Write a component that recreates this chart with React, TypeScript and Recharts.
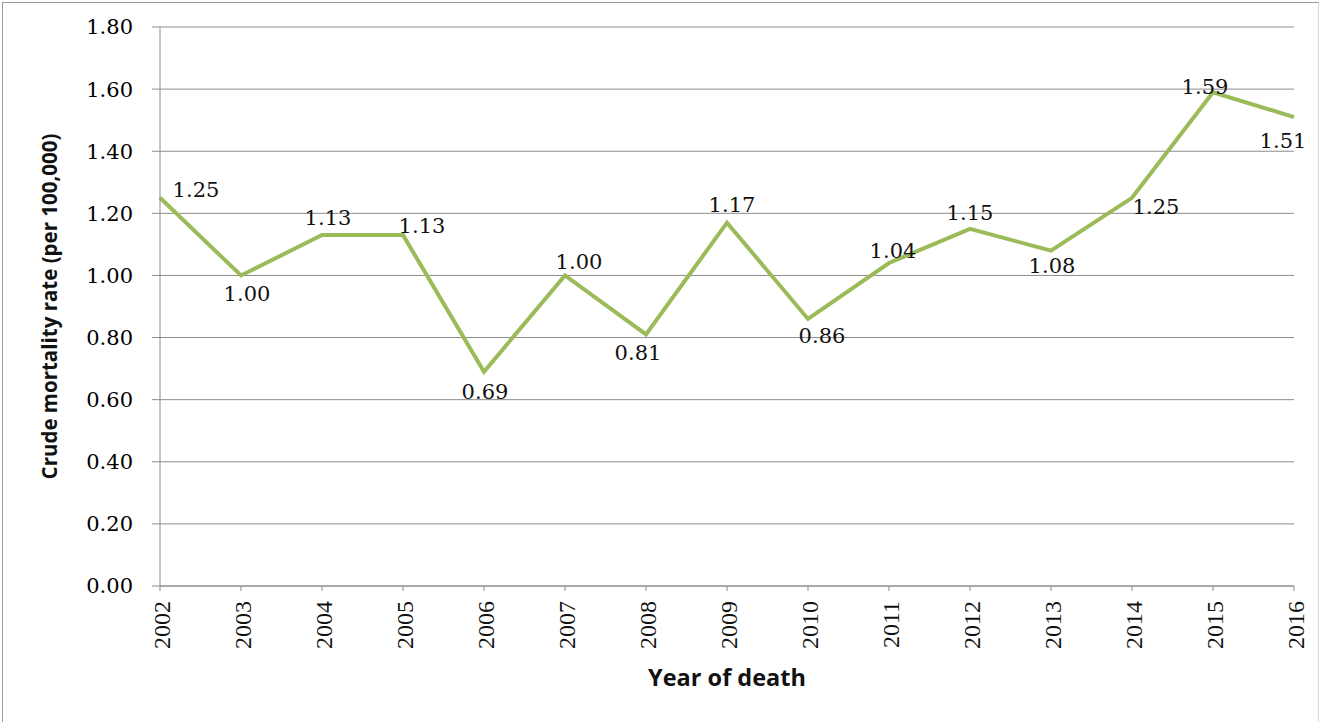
import React from 'react';
import { LineChart, Line, XAxis, YAxis, CartesianGrid, LabelList } from 'recharts';

const YEARS = ['2002', '2003', '2004', '2005', '2006', '2007', '2008', '2009', '2010', '2011', '2012', '2013', '2014', '2015', '2016'];
const RATES = [1.25, 1.0, 1.13, 1.13, 0.69, 1.0, 0.81, 1.17, 0.86, 1.04, 1.15, 1.08, 1.25, 1.59, 1.51];
const Y_TICKS = [0, 0.2, 0.4, 0.6, 0.8, 1.0, 1.2, 1.4, 1.6, 1.8];

// where Excel dropped each data label, relative to its point (label centre)
const LABEL_SHIFT: [number, number][] = [
  [36, -8], [6, 18], [6, -18], [19, -10], [1, 20], [14, -14], [-8, 18], [5, -18],
  [14, 17], [4, -13], [0, -16], [1, 15], [24, 9], [-8, -6], [-11, 23],
];

const data = YEARS.map((year, i) => ({ year, rate: RATES[i] }));

const GRID = '#8c8c8c';

const DataLabel = (props: any) => {
  const { x, y, index, value } = props;
  const [dx, dy] = LABEL_SHIFT[index] ?? [0, -14];
  return (
    <text
      x={x + dx}
      y={y + dy}
      dy="0.36em"
      textAnchor="middle"
      fontFamily="'DejaVu Serif', serif"
      fontSize={21}
      fill="#111"
    >
      {Number(value).toFixed(2)}
    </text>
  );
};

const YearTick = (props: any) => {
  const { x, y, payload } = props;
  return (
    <text
      x={x + 2}
      y={y + 8}
      dy="0.35em"
      transform={`rotate(-90, ${x + 2}, ${y + 8})`}
      textAnchor="end"
      fontFamily="'Liberation Serif', serif"
      fontSize={24}
      fill="#111"
    >
      {payload.value}
    </text>
  );
};

const YTitle = (props: any) => {
  const { x, y, height } = props.viewBox;
  const cx = x + 57;
  const cy = y + height / 2;
  return (
    <text
      x={cx}
      y={cy}
      transform={`rotate(-90, ${cx}, ${cy})`}
      textAnchor="middle"
      fontFamily="'Open Sans', sans-serif"
      fontWeight={700}
      fontSize={20.5}
      fill="#111"
    >
      Crude mortality rate (per 100,000)
    </text>
  );
};

const XTitle = (props: any) => {
  const { x, y, width } = props.viewBox;
  return (
    <text
      x={x + width / 2}
      y={y + 100}
      textAnchor="middle"
      fontFamily="'Open Sans', sans-serif"
      fontWeight={700}
      fontSize={23.5}
      fill="#111"
    >
      Year of death
    </text>
  );
};

export default function App() {
  return (
    <div style={{ position: 'absolute', left: 0, top: 0, width: 1325, height: 722, background: '#fff', overflow: 'hidden' }}>
      <div
        style={{
          position: 'absolute', left: 2, top: 2, width: 1315, height: 730,
          borderLeft: '1px solid #9a9a9a', borderTop: '1px solid #9a9a9a', borderRight: '1px solid #d8d8d8',
        }}
      />
      <LineChart
        width={1325}
        height={722}
        data={data}
        margin={{ top: 27, right: 31, left: 0, bottom: 0 }}
        style={{ position: 'absolute', left: 0, top: 0 }}
      >
        <CartesianGrid vertical={false} stroke={GRID} strokeWidth={1} />
        <XAxis
          dataKey="year"
          height={136}
          interval={0}
          stroke={GRID}
          tickSize={5}
          tick={<YearTick />}
          label={<XTitle />}
        />
        <YAxis
          width={160}
          domain={[0, 1.8]}
          ticks={Y_TICKS}
          interval={0}
          stroke={GRID}
          tickSize={8}
          tickMargin={19}
          tickFormatter={(v: number) => v.toFixed(2)}
          tick={{ fill: '#000', fontFamily: "'DejaVu Serif', serif", fontWeight: 400, fontSize: 21 }}
          label={<YTitle />}
        />
        <Line
          type="linear"
          dataKey="rate"
          stroke="#9bbb59"
          strokeWidth={4}
          dot={false}
          isAnimationActive={false}
        >
          <LabelList dataKey="rate" content={<DataLabel />} />
        </Line>
      </LineChart>
    </div>
  );
}
